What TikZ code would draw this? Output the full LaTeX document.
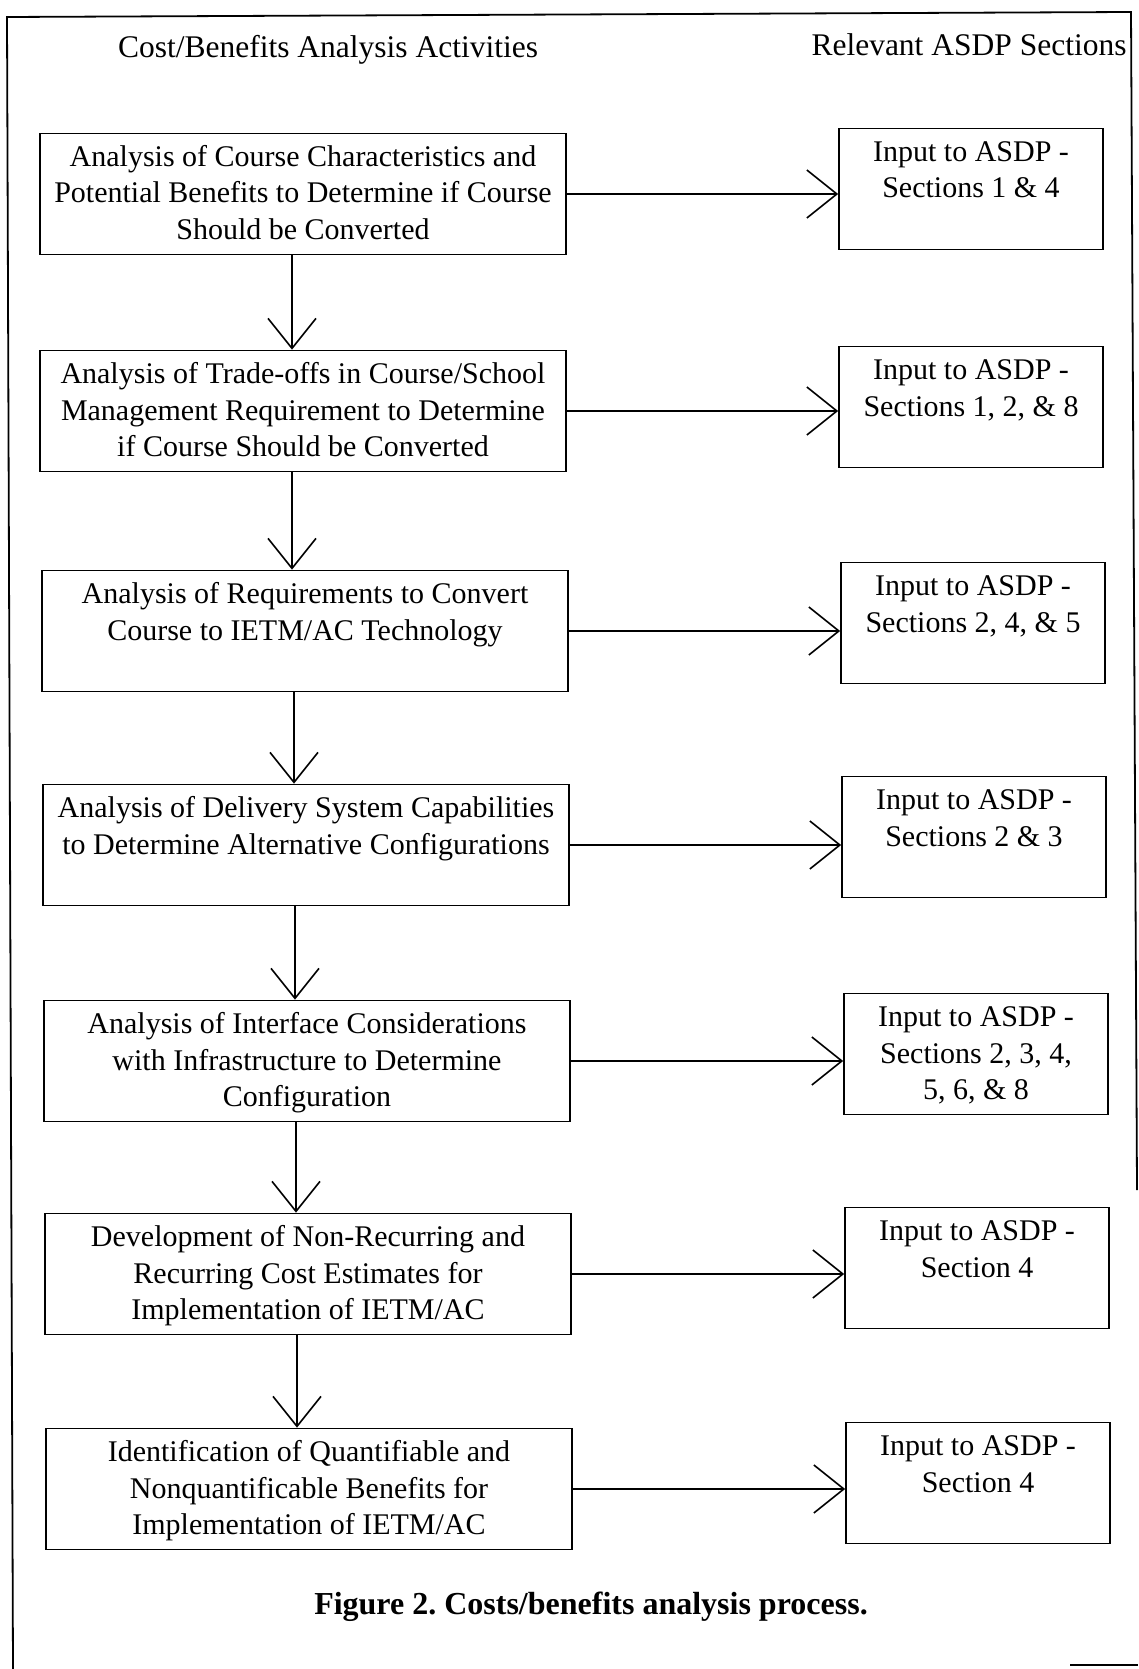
\documentclass[tikz,border=0pt]{standalone}
\usepackage{fontspec}
\setmainfont{Liberation Serif}
\usetikzlibrary{arrows.meta}
\newcommand{\toplines}[1]{\begin{tabular}[t]{@{}c@{}}#1\end{tabular}}
\tikzset{
  activity/.style={draw, line width=1.7pt, minimum width=526pt,
    inner ysep=0pt, text height=33pt, text depth=88pt, font=\fontsize{30}{36.5}\selectfont},
  sections/.style={activity, minimum width=264pt},
  heading/.style={font=\fontsize{31.5}{38}\selectfont},
  flow/.style={line width=1.6pt, -{Straight Barb[length=30pt,width=48pt]}}
}
\begin{document}
\begin{tikzpicture}[x=1pt,y=-1pt]
\useasboundingbox (0,0) rectangle (1138,1669);
\draw [line width=1.8pt] (13,1669) -- (7,17) -- (1131,12) -- (1137,1190);
\draw [line width=1.8pt] (1070,1665) -- (1138,1665);

\node [heading] (acthead) at (328,50) {Cost/Benefits Analysis Activities};
\node [heading] (sechead) at (969,45) {Relevant ASDP Sections};

\node [activity] (act1) at (303,194) {\toplines{Analysis of Course Characteristics and\\Potential Benefits to Determine if Course\\Should be Converted}};
\node [activity] (act2) at (303,411) {\toplines{Analysis of Trade-offs in Course/School\\Management Requirement to Determine\\if Course Should be Converted}};
\node [activity] (act3) at (305,631) {\toplines{Analysis of Requirements to Convert\\Course to IETM/AC Technology}};
\node [activity] (act4) at (306,845) {\toplines{Analysis of Delivery System Capabilities\\to Determine Alternative Configurations}};
\node [activity] (act5) at (307,1061) {\toplines{Analysis of Interface Considerations\\with Infrastructure to Determine\\Configuration}};
\node [activity] (act6) at (308,1274) {\toplines{Development of Non-Recurring and\\Recurring Cost Estimates for\\Implementation of IETM/AC}};
\node [activity] (act7) at (309,1489) {\toplines{Identification of Quantifiable and\\Nonquantificable Benefits for\\Implementation of IETM/AC}};

\node [sections] (sec1) at (971,189) {\toplines{Input to ASDP -\\Sections 1 \& 4}};
\node [sections] (sec2) at (971,407) {\toplines{Input to ASDP -\\Sections 1, 2, \& 8}};
\node [sections] (sec3) at (973,623) {\toplines{Input to ASDP -\\Sections 2, 4, \& 5}};
\node [sections] (sec4) at (974,837) {\toplines{Input to ASDP -\\Sections 2 \& 3}};
\node [sections] (sec5) at (976,1054) {\toplines{Input to ASDP -\\Sections 2, 3, 4,\\5, 6, \& 8}};
\node [sections] (sec6) at (977,1268) {\toplines{Input to ASDP -\\Section 4}};
\node [sections] (sec7) at (978,1483) {\toplines{Input to ASDP -\\Section 4}};

\draw [flow] (act1.east) -- (act1.east -| sec1.west);
\draw [flow] (act2.east) -- (act2.east -| sec2.west);
\draw [flow] (act3.east) -- (act3.east -| sec3.west);
\draw [flow] (act4.east) -- (act4.east -| sec4.west);
\draw [flow] (act5.east) -- (act5.east -| sec5.west);
\draw [flow] (act6.east) -- (act6.east -| sec6.west);
\draw [flow] (act7.east) -- (act7.east -| sec7.west);

\draw [flow] ([xshift=-11pt]act1.south) -- ([xshift=-11pt]act1.south |- act2.north);
\draw [flow] ([xshift=-11pt]act2.south) -- ([xshift=-11pt]act2.south |- act3.north);
\draw [flow] ([xshift=-11pt]act3.south) -- ([xshift=-11pt]act3.south |- act4.north);
\draw [flow] ([xshift=-11pt]act4.south) -- ([xshift=-11pt]act4.south |- act5.north);
\draw [flow] ([xshift=-11pt]act5.south) -- ([xshift=-11pt]act5.south |- act6.north);
\draw [flow] ([xshift=-11pt]act6.south) -- ([xshift=-11pt]act6.south |- act7.north);

\node [font=\bfseries\fontsize{32}{38}\selectfont] (caption) at (591,1607) {\frenchspacing Figure 2. Costs/benefits analysis process.};

\end{tikzpicture}
\end{document}
